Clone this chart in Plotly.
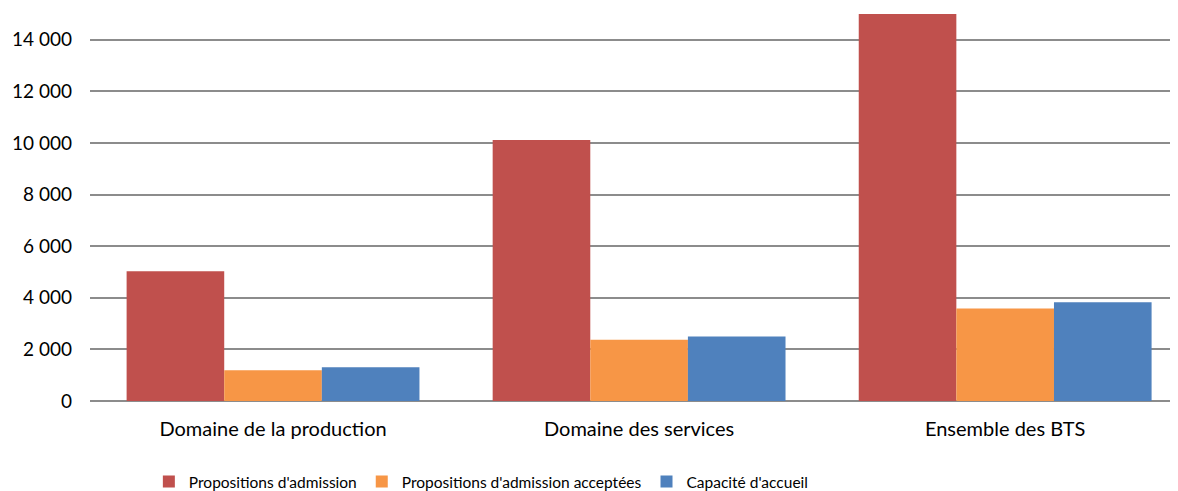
import plotly.graph_objects as go

# ── DATA ──
categories = ["Domaine de la production", "Domaine des services", "Ensemble des BTS"]
propositions = [5025, 10120, 15020]
acceptees = [1190, 2370, 3590]
capacite = [1310, 2500, 3830]

series_names = ["Propositions d'admission", "Propositions d'admission acceptées", "Capacité d'accueil"]
colors = ["#C0504D", "#F79646", "#4F81BD"]

fig = go.Figure()
for name, vals, col in zip(series_names, [propositions, acceptees, capacite], colors):
    fig.add_trace(go.Bar(x=categories, y=vals, name=name, marker_color=col,
                         marker_line_width=0))

# page body has an 8px margin, so margins are shifted to land the plot where the reference has it
fig.update_layout(
    width=1178, height=491,
    margin=dict(l=82, r=0, t=6, b=98),
    barmode="group", bargap=0.2, bargroupgap=0,
    plot_bgcolor="white", paper_bgcolor="white",
    font=dict(family="Lato, Calibri, sans-serif", size=19, color="#000"),
    separators=", ",
    showlegend=True,
    legend=dict(orientation="h", x=0.0537, xanchor="left", yref="container", y=-0.028,
                yanchor="bottom", font=dict(size=15.5), itemwidth=30, traceorder="normal"),
)
fig.update_yaxes(range=[0, 15000], dtick=2000, tickformat=",d", showgrid=True,
                 gridcolor="#8c8c8c", gridwidth=1.5, zeroline=True, zerolinecolor="#8c8c8c",
                 zerolinewidth=1.5, ticks="", showline=False, ticklabelstandoff=17,
                 automargin=False)
# plot area runs past the right edge of the frame in the reference
fig.update_xaxes(range=[-0.5, 2.494], showline=False, ticks="", ticklabelstandoff=14,
                 tickfont=dict(size=20), automargin=False)

fig.write_html("out.html")
